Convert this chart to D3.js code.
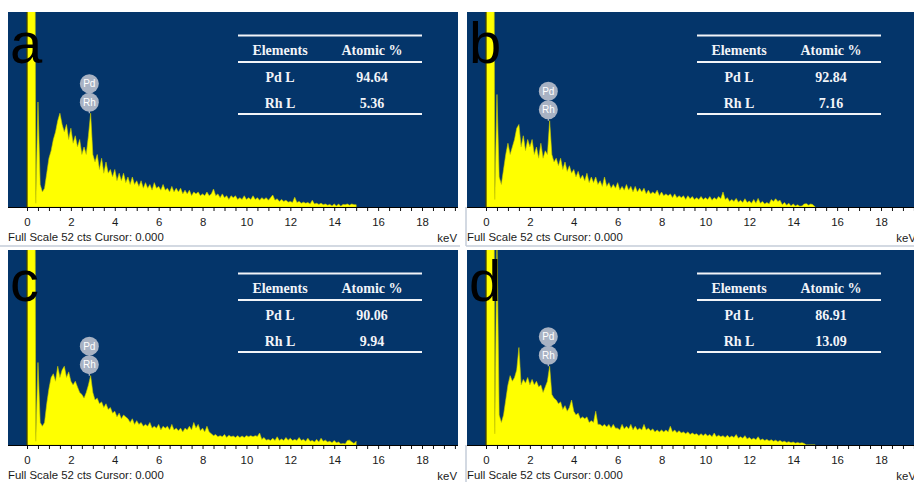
<!DOCTYPE html>
<html>
<head>
<meta charset="utf-8">
<script src="https://cdn.jsdelivr.net/npm/d3@7"></script>
<style>
  body { margin: 0; background: #fff; }
  svg { display: block; }
</style>
</head>
<body>
<svg id="chart"></svg>
<script>
// EDS spectra, one count value per 0.1 keV channel starting at 0 keV
const startKeV = 0, stepKeV = 0.1;

const countsA = [200,200,200,200,1,28,6,4,5,9,
  13,15,18,20,23,25,22,20,22,18,
  21,17,19,16,18,14,16,14,19,25,
  14,12,14,10,13,9,12,9,10,8,
  10,7,9,7,9,6.5,8,6,8,6,
  7,5.5,7,5,6.5,5,6,4.5,6.5,5,
  5.5,4.5,6,4.5,5,4,5.5,4,5,4,
  5,3.5,4.5,3.5,4.5,3,4,3.5,4,3,
  3.5,3,4,3,3.5,4.8,3,3.5,2.5,3.5,
  2.5,3,2,3,2.5,3,2,2.5,2,3,
  2,2.5,2,3,2,2.5,1.8,2.5,2,2.5,
  1.8,2.5,3.2,1.8,2.2,1.5,2,1.5,1.8,1.3,
  1.5,1.2,2.6,1.2,1.5,1,1.3,1,1.2,0.8,
  1.8,0.8,1,0.7,1,0.6,0.8,0.5,0.7,0.3,
  0.8,0.3,0.8,0.2,0.7,0.6,0.8,0.5,0.8,0.6,
  0.6];

const countsB = [200,200,200,200,2,30,8,6,10,14,
  17,14,16,18,21,22,16,19,15,18,
  16,18,14,16,13,17,13,15,14,23,
  14,12,13,11,13,10,12,9.5,11,9,
  10,8,9.5,7.5,8.5,7,9,6.5,8,6.5,
  8,6,7,5.5,8,5.5,6.5,5,6,5,
  6.5,4.5,5.5,4.5,6,4.5,5.5,4,5.5,4,
  5,4,5,3.5,4.5,3.5,4,3.5,4.5,3,
  4,3,3.5,3,3.5,2.5,3.5,2.5,3,2.5,
  3,2,3,2.2,2.8,2,2.5,2,2.8,2,
  2.5,2,2.8,1.8,2.5,2,2.8,2.2,4,2,
  2.5,1.5,2,1.5,2.3,1.3,1.8,1.2,2.2,1.2,
  1.6,1,2,1,2.3,1,1.5,0.8,1.2,0.8,
  2,1.5,2.2,1.5,1.8,0.6,1.2,0.5,1,0.3,
  0.8,0.3,0.6,0.2,0.3,0.8,0.9,0.5,0.8,0.6,
  0];

const countsC = [200,200,200,200,1,22,6,5,6,11,
  15,18,19,17,21,18,20,21,18,19.5,
  17,16,17,15.5,14,13.5,12.5,14,16,18.5,
  14,12,12.5,11,11.5,10,11,9.5,10,8.5,
  9,7.5,8.5,7,8,7.5,7,6,7,5.5,
  6.5,5.5,6,5,5.5,5,6,4.5,5,4.5,
  5.5,4,5,4.5,5,4,5.5,4,4.5,3.8,
  4.5,3.5,4.5,4,5,4,6,4.5,5.5,3.8,
  4.5,3.5,5,3.5,3,2.5,2.8,2.2,2.5,2.2,
  2.8,2,2.6,2.2,2.4,2,2.5,2,2.4,2,
  2.5,2.2,2.5,2.2,2.5,2.3,3.2,1.5,2,1.3,
  1.5,1.2,1.8,1.2,2.2,1.2,1.6,1.2,2,1.3,
  1.8,1.2,1.5,1.2,2,1.2,1.5,1,1.8,1,
  1.2,0.8,1.5,0.8,1.8,1,1.3,0.8,1,0.6,
  1.2,0.6,0.8,0.3,0.4,0.3,1.2,1.3,0.8,0.4,
  1];

const countsD = [200,200,200,200,3,55,8,6,8,12,
  16,18.5,17,18,20,26,16,17.5,16.5,18,
  16,17.5,16,17,15.5,16,14,15.5,17,21,
  13.5,12.5,12,11,11.5,9.5,10.5,9,10,12,
  9,8,8.5,7,7.5,7,7.5,6,6.5,6,
  9,5.5,5.5,5,5.5,4.8,5.5,4.5,5.5,4.5,
  4.5,4,5.5,4.3,5,4.3,5.5,4,5,4,
  4.5,4,5.5,4,4.5,3.8,4.3,3.5,4,3.5,
  4,3.5,4,3.5,5,3.5,4,3.3,3.8,3.2,
  3.5,3,3.5,2.8,3.2,2.8,3,2.5,3,2.5,
  3,2.4,2.8,2.2,3.2,2.2,2.6,2.2,2.5,2,
  2.6,2,2.4,2,2.8,1.8,2.2,1.8,2.5,1.6,
  2,1.5,1.8,1.4,2.2,1.3,1.6,1.2,1.5,1.1,
  1.4,1,1.3,0.9,1.2,0.8,1,0.7,0.9,0.6,
  0.8,0.5,0.7,0.5,0.6,0.4,0,0,0,0,
  0];

const letters = ["a", "b", "c", "d"];
const elements = ["Pd L", "Rh L"];
const atomicA = [94.64, 5.36];
const atomicB = [92.84, 7.16];
const atomicC = [90.06, 9.94];
const atomicD = [86.91, 13.09];
const peakLabels = ["Pd", "Rh"];
const peakKeV = 2.84;
const keVTicks = [0, 2, 4, 6, 8, 10, 12, 14, 16, 18];
const fullScaleCts = 52;

var width = 914, height = 482;
var panelOffsets = [[0, 0], [459, 0], [0, 238], [459, 238]];
var plot = {left: 8, right: 458, top: 12, bottom: 207};

const svg = d3.select("#chart")
  .attr("width", width)
  .attr("height", height);

svg.append("rect")
  .attr("width", width)
  .attr("height", height)
  .attr("fill", "#fff");

const spectra = [countsA, countsB, countsC, countsD];
const atomicPct = [atomicA, atomicB, atomicC, atomicD];

spectra.forEach((counts, i) => drawPanel(i, counts));

function drawPanel(i, counts) {
  const g = svg.append("g")
    .attr("transform", `translate(${panelOffsets[i][0]},${panelOffsets[i][1]})`);

  const x = d3.scaleLinear().domain([0, 18]).range([27, 422]);
  const y = d3.scaleLinear().domain([0, fullScaleCts]).range([plot.bottom, plot.top]);

  // blue plot background
  g.append("rect")
    .attr("x", plot.left)
    .attr("y", plot.top)
    .attr("width", plot.right - plot.left)
    .attr("height", plot.bottom - plot.top)
    .attr("fill", "#04356a");

  g.append("clipPath")
    .attr("id", "clip" + i)
    .append("rect")
    .attr("x", plot.left)
    .attr("y", plot.top)
    .attr("width", plot.right - plot.left)
    .attr("height", plot.bottom - plot.top);

  // spectrum
  const area = d3.area()
    .x((d, j) => x(startKeV + j * stepKeV))
    .y0(y(0))
    .y1(d => y(d));

  g.append("path")
    .datum(counts)
    .attr("clip-path", `url(#clip${i})`)
    .attr("d", area)
    .attr("fill", "#ffff00")
    .attr("stroke", "#c9c900")
    .attr("stroke-width", 0.6);

  // cursor at 0 keV
  g.append("line")
    .attr("x1", x(0)).attr("x2", x(0))
    .attr("y1", plot.top).attr("y2", plot.bottom)
    .attr("stroke", "#1a1a00")
    .attr("stroke-width", 1);

  // bottom strip borders
  g.append("line")
    .attr("x1", i % 2 ? 7 : 0).attr("x2", 460)
    .attr("y1", 246).attr("y2", 246)
    .attr("stroke", "#c4ccd8")
    .attr("stroke-width", 1.5);
  if (i % 2) {
    g.append("line")
      .attr("x1", 7).attr("x2", 7)
      .attr("y1", plot.bottom).attr("y2", 246)
      .attr("stroke", "#c4ccd8")
      .attr("stroke-width", 1.5);
  }

  // X axis
  const axis = g.append("g")
    .attr("transform", `translate(0,${plot.bottom})`)
    .call(d3.axisBottom(x)
      .tickValues(d3.range(0, 19.75, 0.5))
      .tickSize(4)
      .tickPadding(7)
      .tickFormat(d => keVTicks.includes(d) ? d : ""));
  axis.select(".domain").remove();
  axis.selectAll("line").attr("stroke", "#111");
  axis.selectAll("text")
    .style("font-family", "'Liberation Sans', Arial, sans-serif")
    .style("font-size", "11.4px")
    .attr("fill", "#1a1a1a");

  g.append("line")
    .attr("x1", plot.left).attr("x2", plot.right)
    .attr("y1", plot.bottom + 0.5).attr("y2", plot.bottom + 0.5)
    .attr("stroke", "#000")
    .attr("stroke-width", 1);

  g.append("text")
    .attr("x", plot.left)
    .attr("y", 241)
    .style("font-family", "'Liberation Sans', Arial, sans-serif")
    .style("font-size", "11.4px")
    .attr("fill", "#1a1a1a")
    .text(`Full Scale ${fullScaleCts} cts Cursor: 0.000`);

  g.append("text")
    .attr("x", 457)
    .attr("y", 242)
    .attr("text-anchor", "end")
    .style("font-family", "'Liberation Sans', Arial, sans-serif")
    .style("font-size", "11.4px")
    .attr("fill", "#1a1a1a")
    .text("keV");

  // Pd / Rh peak markers
  const peakCounts = d3.max(counts.filter((d, j) => {
    const e = startKeV + j * stepKeV;
    return e > 2.65 && e < 3.05;
  }));
  const peakTop = y(peakCounts);
  const rhY = peakTop - 11, pdY = rhY - 18.5;
  g.append("line")
    .attr("x1", x(peakKeV)).attr("x2", x(peakKeV))
    .attr("y1", pdY).attr("y2", peakTop)
    .attr("stroke", "#b3bccb")
    .attr("stroke-width", 1.2);
  peakLabels.forEach((lab, k) => {
    const cy = k === 0 ? pdY : rhY;
    g.append("circle")
      .attr("cx", x(peakKeV))
      .attr("cy", cy)
      .attr("r", 9.5)
      .attr("fill", "#a8b2c3");
    g.append("text")
      .attr("x", x(peakKeV))
      .attr("y", cy + 3.5)
      .attr("text-anchor", "middle")
      .style("font-family", "'Liberation Sans', Arial, sans-serif")
      .style("font-size", "10px")
      .attr("fill", "#fff")
      .text(lab);
  });

  // composition table
  const tbl = g.append("g")
    .style("font-family", "'Liberation Serif', 'Times New Roman', serif")
    .style("font-size", "14px")
    .style("font-weight", "bold")
    .attr("fill", "#f2f4f8");
  [35.5, 62, 114].forEach(ly => {
    tbl.append("line")
      .attr("x1", 238).attr("x2", 422)
      .attr("y1", ly).attr("y2", ly)
      .attr("stroke", "#f2f4f8")
      .attr("stroke-width", 2);
  });
  tbl.append("text").attr("x", 280).attr("y", 55).attr("text-anchor", "middle").text("Elements");
  tbl.append("text").attr("x", 372).attr("y", 55).attr("text-anchor", "middle").text("Atomic %");
  elements.forEach((el, k) => {
    const ty = 82 + k * 26;
    tbl.append("text").attr("x", 280).attr("y", ty).attr("text-anchor", "middle").text(el);
    tbl.append("text").attr("x", 372).attr("y", ty).attr("text-anchor", "middle")
      .text(d3.format(".2f")(atomicPct[i][k]));
  });

  // panel letter
  g.append("text")
    .attr("x", 10)
    .attr("y", 63)
    .style("font-family", "'Liberation Sans', Arial, sans-serif")
    .style("font-size", "58px")
    .attr("fill", "#000")
    .text(letters[i]);
}
</script>
</body>
</html>
